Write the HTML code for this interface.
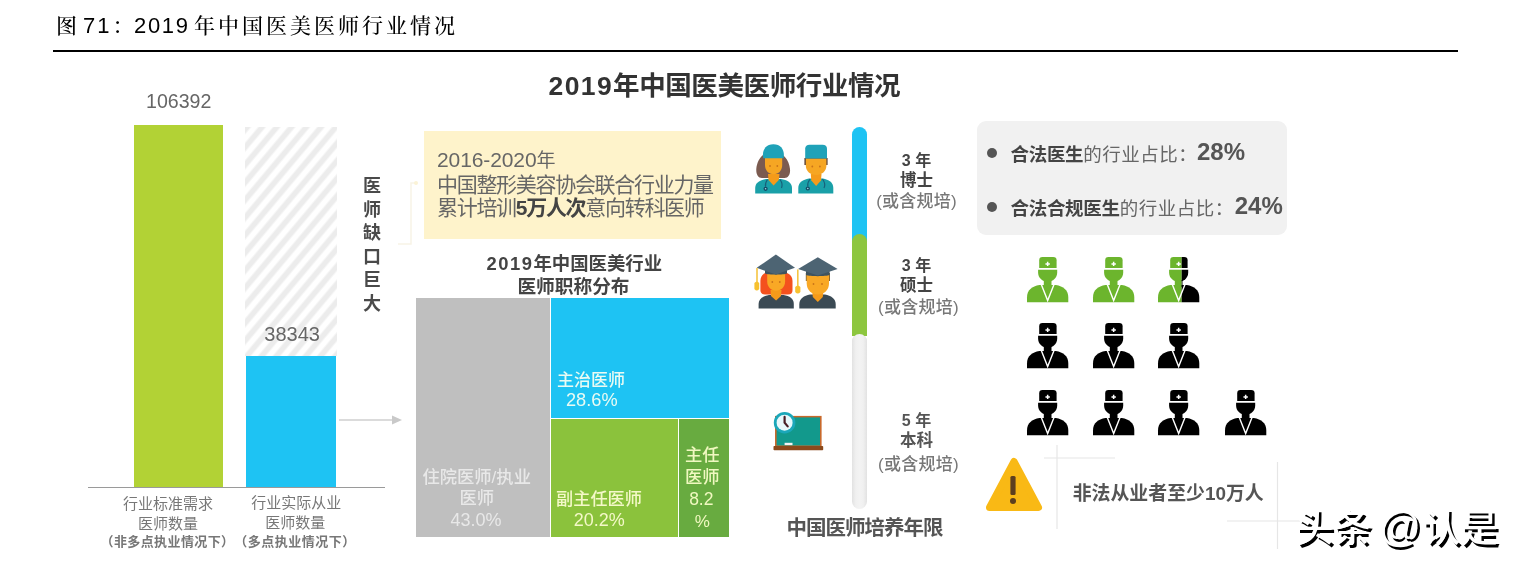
<!DOCTYPE html>
<html lang="zh-CN">
<head>
<meta charset="utf-8">
<title>图 71：2019 年中国医美医师行业情况</title>
<style>
html,body{margin:0;padding:0;background:#fff;}
body{width:1519px;height:567px;position:relative;overflow:hidden;font-family:"Liberation Sans","Noto Sans CJK SC",sans-serif;color:#555;}
.a{position:absolute;white-space:nowrap;line-height:1;}
.c{text-align:center;transform:translateX(-50%);}
.b{font-weight:700;}
.cap{font-family:"Liberation Sans","Noto Serif CJK SC",serif;font-size:21px;font-weight:500;color:#000;top:15px;}
svg{position:absolute;overflow:visible;}
</style>
</head>
<body>
<!-- caption -->
<div class="a cap" id="cap1" style="left:56px;">图</div>
<div class="a cap" id="cap2" style="font-weight:400;left:83px;letter-spacing:2px;font-size:22px;top:15px;">71</div>
<div class="a cap" id="cap3" style="left:112.5px;">：</div>
<div class="a cap" id="cap4" style="font-weight:400;left:134px;letter-spacing:1.7px;font-size:22px;top:15px;">2019</div>
<div class="a cap" id="cap5" style="left:194px;letter-spacing:3px;">年中国医美医师行业情况</div>
<div class="a" id="rule" style="left:53px;top:50px;width:1405px;height:2px;background:#000;"></div>

<!-- main title -->
<div class="a b" id="title" style="left:548.5px;top:72.5px;font-size:26.5px;letter-spacing:-0.4px;color:#333;"><span style="letter-spacing:1.4px;">2019</span>年中国医美医师行业情况</div>

<!-- bar chart -->
<div class="a" id="bar1" style="left:134px;top:125px;width:89px;height:362px;background:#b2d235;"></div>
<div class="a" id="hatch" style="left:245px;top:127px;width:92px;height:229px;background:repeating-linear-gradient(130deg,#ececec 0,#ececec 3.6px,#fff 5.6px,#fff 9.3px,#ececec 11.3px);"></div>
<div class="a" id="bar2" style="left:246px;top:356px;width:90px;height:131px;background:#1ec3f3;"></div>
<div class="a" id="axis" style="left:88px;top:486.5px;width:297px;height:1.5px;background:#9a9a9a;"></div>
<div class="a" id="n1" style="left:146px;top:91.5px;font-size:19.6px;color:#666;">106392</div>
<div class="a" id="n2" style="left:264.3px;top:323.5px;font-size:20px;color:#666;">38343</div>
<div class="a b" id="vt" style="left:363px;top:175px;font-size:18px;line-height:23.6px;width:18px;white-space:normal;color:#4a4a4a;">医师缺口巨大</div>
<div class="a c" id="l1a" style="left:168px;top:496px;font-size:15px;color:#777;">行业标准需求</div>
<div class="a c" id="l1b" style="left:168px;top:516px;font-size:15px;color:#777;">医师数量</div>
<div class="a c b" id="l1c" style="left:167.5px;top:534.5px;font-size:13px;letter-spacing:0.4px;color:#777;">（非多点执业情况下）</div>
<div class="a c" id="l2a" style="left:296.2px;top:495px;font-size:15px;color:#777;">行业实际从业</div>
<div class="a c" id="l2b" style="left:295.2px;top:515.2px;font-size:15px;color:#777;">医师数量</div>
<div class="a c b" id="l2c" style="left:295px;top:534.5px;font-size:13px;letter-spacing:0.5px;color:#777;">（多点执业情况下）</div>
<!-- arrow -->
<svg id="arrow" style="left:338px;top:412px;" width="66" height="16" viewBox="0 0 66 16"><line x1="1" y1="8" x2="56" y2="8" stroke="#cfcfcf" stroke-width="1.3"/><path d="M54 3.5 L64 8 L54 12.5 Z" fill="#c9c9c9"/></svg>
<!-- bracket -->
<svg id="bracket" style="left:396px;top:178px;" width="24" height="70" viewBox="0 0 24 70"><path d="M2 66 H15 V5 H20" fill="none" stroke="#f8f3e6" stroke-width="1.5"/><circle cx="20" cy="5" r="2" fill="#fbf3d6"/></svg>

<!-- yellow box -->
<div class="a" id="ybox" style="left:424px;top:131px;width:297px;height:108px;background:#fef3cb;"></div>
<div class="a" id="y1" style="left:437px;top:149px;font-size:21px;letter-spacing:-0.1px;color:#666;">2016-2020<span style="font-size:19px;">年</span></div>
<div class="a" id="y2" style="left:437px;top:174px;font-size:21px;letter-spacing:-1.3px;color:#666;">中国整形美容协会联合行业力量</div>
<div class="a" id="y3" style="left:437px;top:197px;font-size:21px;letter-spacing:-1.3px;color:#666;">累计培训<span class="b" style="color:#444;">5万人次</span>意向转科医师</div>

<!-- treemap -->
<div class="a c b" id="s1" style="left:574.3px;top:255.3px;font-size:18.4px;color:#444;"><span style="letter-spacing:1.5px;">2019</span>年中国医美行业</div>
<div class="a c b" id="s2" style="left:573.5px;top:278px;font-size:18.7px;color:#444;">医师职称分布</div>
<div class="a" id="tg" style="left:416px;top:298px;width:133.5px;height:238.5px;background:#bfbfbf;"></div>
<div class="a" id="tb" style="left:550.5px;top:298px;width:178.5px;height:119.5px;background:#1ec3f3;"></div>
<div class="a" id="tl" style="left:550.5px;top:418.5px;width:127px;height:118px;background:#8bc23c;"></div>
<div class="a" id="td" style="left:678.5px;top:418.5px;width:50.5px;height:118px;background:#68ab40;"></div>
<div class="a" id="t1a" style="font-weight:500;left:557px;top:371.5px;font-size:17px;color:#e9fbf3;">主治医师</div>
<div class="a" id="t1b" style="left:566px;top:390.5px;font-size:18.2px;color:#e9fbf3;">28.6%</div>
<div class="a c" id="t2a" style="font-weight:500;left:476.7px;top:469px;font-size:17.3px;color:#e8e8e8;">住院医师/执业</div>
<div class="a c" id="t2b" style="font-weight:500;left:476.8px;top:490px;font-size:17.3px;color:#e8e8e8;">医师</div>
<div class="a c" id="t2c" style="left:476px;top:510.5px;font-size:18px;color:#e8e8e8;">43.0%</div>
<div class="a c" id="t3a" style="font-weight:500;left:599px;top:490.5px;font-size:17.2px;color:#f4f8c8;">副主任医师</div>
<div class="a c" id="t3b" style="left:599.2px;top:510.5px;font-size:18px;color:#f4f8c8;">20.2%</div>
<div class="a c" id="t4a" style="font-weight:500;left:702.3px;top:446.5px;font-size:17.3px;color:#f0f8c0;">主任</div>
<div class="a c" id="t4b" style="font-weight:500;left:702.3px;top:468.5px;font-size:17.3px;color:#f0f8c0;">医师</div>
<div class="a c" id="t4c" style="left:701.3px;top:490.5px;font-size:17.5px;color:#f0f8c0;">8.2</div>
<div class="a c" id="t4d" style="left:702.3px;top:512.5px;font-size:17px;color:#f0f8c0;">%</div>

<!-- timeline bar -->
<div class="a" id="vg" style="left:851.5px;top:333.5px;width:15.8px;height:175.5px;border-radius:7.9px;background:linear-gradient(90deg,#e2e2e2 0,#f0f0f0 25%,#f3f3f3 50%,#f0f0f0 75%,#e2e2e2 100%);"></div>
<div class="a" id="vb" style="left:851.5px;top:127px;width:15.8px;height:113.5px;border-radius:7.9px 7.9px 0 0;background:#1ec3f3;"></div>
<div class="a" id="vgr" style="left:851.5px;top:234px;width:15.8px;height:102px;border-radius:7.9px 7.9px 0 0;background:#8dc63f;"></div>
<div class="a" id="vg2" style="left:851.5px;top:333.5px;width:15.8px;height:20px;border-radius:7.9px 7.9px 0 0;background:linear-gradient(90deg,#e2e2e2 0,#f0f0f0 25%,#f3f3f3 50%,#f0f0f0 75%,#e2e2e2 100%);"></div>

<div class="a c b" id="d1a" style="left:916.5px;top:153.4px;font-size:16px;color:#444;">3 年</div>
<div class="a c b" id="d1b" style="left:916.5px;top:172.1px;font-size:16.5px;color:#444;">博士</div>
<div class="a c" id="d1c" style="left:916.5px;top:192.7px;font-size:17px;font-weight:500;letter-spacing:0.2px;color:#777;">(或含规培)</div>
<div class="a c b" id="d2a" style="left:916.5px;top:258.4px;font-size:16px;color:#444;">3 年</div>
<div class="a c b" id="d2b" style="left:916.5px;top:276.6px;font-size:16.5px;color:#444;">硕士</div>
<div class="a c" id="d2c" style="left:918.5px;top:299px;font-size:17px;font-weight:500;letter-spacing:0.3px;color:#777;">(或含规培)</div>
<div class="a c b" id="d3a" style="left:916.5px;top:413.4px;font-size:16px;color:#555;">5 年</div>
<div class="a c b" id="d3b" style="left:916.5px;top:432.1px;font-size:16.5px;color:#555;">本科</div>
<div class="a c" id="d3c" style="left:918.5px;top:455.5px;font-size:17px;font-weight:500;letter-spacing:0.3px;color:#777;">(或含规培)</div>
<div class="a c b" id="d4" style="left:864.5px;top:517.5px;font-size:20.5px;letter-spacing:-1px;color:#555;">中国医师培养年限</div>

<!-- right box -->
<div class="a" id="gbox" style="left:977px;top:121px;width:310px;height:114px;border-radius:9px;background:#f1f1f1;"></div>
<div class="a" id="bu1" style="left:987px;top:148px;width:10px;height:10px;border-radius:5px;background:#555;"></div>
<div class="a" id="bu2" style="left:987px;top:202px;width:10px;height:10px;border-radius:5px;background:#555;"></div>
<div class="a" id="r1" style="left:1010.5px;top:145.5px;font-size:18.5px;letter-spacing:-0.3px;color:#666;"><span class="b" style="color:#444;">合法医生</span><span style="letter-spacing:0.5px;">的行业占比：</span></div>
<div class="a b" id="r1n" style="left:1197px;top:139.7px;font-size:24px;color:#555;">28%</div>
<div class="a" id="r2" style="left:1010.5px;top:199.5px;font-size:18.5px;letter-spacing:-0.3px;color:#666;"><span class="b" style="color:#444;">合法合规医生</span><span style="letter-spacing:0.5px;">的行业占比：</span></div>
<div class="a b" id="r2n" style="left:1234.7px;top:193.6px;font-size:24px;color:#555;">24%</div>

<!-- pictogram doctors -->
<svg id="p11" style="left:1027.4px;top:257.4px;" width="41.3" height="45.2" viewBox="0 0 41.3 45.2"><g fill="#6cb52d"><path d="M12.2 11.1 V3.2 Q12.2 0 15.4 0 H26.2 Q29.6 0 29.6 3.2 V11.1 Z"/><path d="M11.1 12.7 H30.2 V15.5 C30.2 21 26 24.6 20.65 24.6 C15.3 24.6 11.1 21 11.1 15.5 Z"/><rect x="16.8" y="23" width="7.7" height="7"/><path d="M0 45.2 V40.5 C0 33 5 29.2 12.5 28 H28.8 C36.3 29.2 41.3 33 41.3 40.5 V45.2 Z"/></g><path d="M20.65 4.7 V9.1 M18.45 6.9 H22.85" stroke="#fff" stroke-width="1.5" fill="none"/><path d="M14.3 27.6 L20.65 43.6 L27 27.6" stroke="#fff" stroke-width="1.4" fill="none" stroke-linejoin="miter"/></svg>
<svg id="p12" style="left:1092.8px;top:257.4px;" width="41.3" height="45.2" viewBox="0 0 41.3 45.2"><g fill="#6cb52d"><path d="M12.2 11.1 V3.2 Q12.2 0 15.4 0 H26.2 Q29.6 0 29.6 3.2 V11.1 Z"/><path d="M11.1 12.7 H30.2 V15.5 C30.2 21 26 24.6 20.65 24.6 C15.3 24.6 11.1 21 11.1 15.5 Z"/><rect x="16.8" y="23" width="7.7" height="7"/><path d="M0 45.2 V40.5 C0 33 5 29.2 12.5 28 H28.8 C36.3 29.2 41.3 33 41.3 40.5 V45.2 Z"/></g><path d="M20.65 4.7 V9.1 M18.45 6.9 H22.85" stroke="#fff" stroke-width="1.5" fill="none"/><path d="M14.3 27.6 L20.65 43.6 L27 27.6" stroke="#fff" stroke-width="1.4" fill="none" stroke-linejoin="miter"/></svg>
<svg id="p13" style="left:1158.0px;top:257.4px;" width="41.3" height="45.2" viewBox="0 0 41.3 45.2"><clipPath id="clp13"><rect x="-1" y="-1" width="24.7" height="48"/></clipPath><clipPath id="crp13"><rect x="23.7" y="-1" width="30" height="48"/></clipPath><g fill="#6cb52d" clip-path="url(#clp13)"><path d="M12.2 11.1 V3.2 Q12.2 0 15.4 0 H26.2 Q29.6 0 29.6 3.2 V11.1 Z"/><path d="M11.1 12.7 H30.2 V15.5 C30.2 21 26 24.6 20.65 24.6 C15.3 24.6 11.1 21 11.1 15.5 Z"/><rect x="16.8" y="23" width="7.7" height="7"/><path d="M0 45.2 V40.5 C0 33 5 29.2 12.5 28 H28.8 C36.3 29.2 41.3 33 41.3 40.5 V45.2 Z"/></g><g fill="#000" clip-path="url(#crp13)"><path d="M12.2 11.1 V3.2 Q12.2 0 15.4 0 H26.2 Q29.6 0 29.6 3.2 V11.1 Z"/><path d="M11.1 12.7 H30.2 V15.5 C30.2 21 26 24.6 20.65 24.6 C15.3 24.6 11.1 21 11.1 15.5 Z"/><rect x="16.8" y="23" width="7.7" height="7"/><path d="M0 45.2 V40.5 C0 33 5 29.2 12.5 28 H28.8 C36.3 29.2 41.3 33 41.3 40.5 V45.2 Z"/></g><path d="M20.65 4.7 V9.1 M18.45 6.9 H22.85" stroke="#fff" stroke-width="1.5" fill="none"/><path d="M14.3 27.6 L20.65 43.6 L27 27.6" stroke="#fff" stroke-width="1.4" fill="none" stroke-linejoin="miter"/></svg>
<svg id="p21" style="left:1027.4px;top:322.9px;" width="41.3" height="45.2" viewBox="0 0 41.3 45.2"><g fill="#000"><path d="M12.2 11.1 V3.2 Q12.2 0 15.4 0 H26.2 Q29.6 0 29.6 3.2 V11.1 Z"/><path d="M11.1 12.7 H30.2 V15.5 C30.2 21 26 24.6 20.65 24.6 C15.3 24.6 11.1 21 11.1 15.5 Z"/><rect x="16.8" y="23" width="7.7" height="7"/><path d="M0 45.2 V40.5 C0 33 5 29.2 12.5 28 H28.8 C36.3 29.2 41.3 33 41.3 40.5 V45.2 Z"/></g><path d="M20.65 4.7 V9.1 M18.45 6.9 H22.85" stroke="#fff" stroke-width="1.5" fill="none"/><path d="M14.3 27.6 L20.65 43.6 L27 27.6" stroke="#fff" stroke-width="1.4" fill="none" stroke-linejoin="miter"/></svg>
<svg id="p22" style="left:1092.8px;top:322.9px;" width="41.3" height="45.2" viewBox="0 0 41.3 45.2"><g fill="#000"><path d="M12.2 11.1 V3.2 Q12.2 0 15.4 0 H26.2 Q29.6 0 29.6 3.2 V11.1 Z"/><path d="M11.1 12.7 H30.2 V15.5 C30.2 21 26 24.6 20.65 24.6 C15.3 24.6 11.1 21 11.1 15.5 Z"/><rect x="16.8" y="23" width="7.7" height="7"/><path d="M0 45.2 V40.5 C0 33 5 29.2 12.5 28 H28.8 C36.3 29.2 41.3 33 41.3 40.5 V45.2 Z"/></g><path d="M20.65 4.7 V9.1 M18.45 6.9 H22.85" stroke="#fff" stroke-width="1.5" fill="none"/><path d="M14.3 27.6 L20.65 43.6 L27 27.6" stroke="#fff" stroke-width="1.4" fill="none" stroke-linejoin="miter"/></svg>
<svg id="p23" style="left:1158.0px;top:322.9px;" width="41.3" height="45.2" viewBox="0 0 41.3 45.2"><g fill="#000"><path d="M12.2 11.1 V3.2 Q12.2 0 15.4 0 H26.2 Q29.6 0 29.6 3.2 V11.1 Z"/><path d="M11.1 12.7 H30.2 V15.5 C30.2 21 26 24.6 20.65 24.6 C15.3 24.6 11.1 21 11.1 15.5 Z"/><rect x="16.8" y="23" width="7.7" height="7"/><path d="M0 45.2 V40.5 C0 33 5 29.2 12.5 28 H28.8 C36.3 29.2 41.3 33 41.3 40.5 V45.2 Z"/></g><path d="M20.65 4.7 V9.1 M18.45 6.9 H22.85" stroke="#fff" stroke-width="1.5" fill="none"/><path d="M14.3 27.6 L20.65 43.6 L27 27.6" stroke="#fff" stroke-width="1.4" fill="none" stroke-linejoin="miter"/></svg>
<svg id="p31" style="left:1027.4px;top:389.5px;" width="41.3" height="45.2" viewBox="0 0 41.3 45.2"><g fill="#000"><path d="M12.2 11.1 V3.2 Q12.2 0 15.4 0 H26.2 Q29.6 0 29.6 3.2 V11.1 Z"/><path d="M11.1 12.7 H30.2 V15.5 C30.2 21 26 24.6 20.65 24.6 C15.3 24.6 11.1 21 11.1 15.5 Z"/><rect x="16.8" y="23" width="7.7" height="7"/><path d="M0 45.2 V40.5 C0 33 5 29.2 12.5 28 H28.8 C36.3 29.2 41.3 33 41.3 40.5 V45.2 Z"/></g><path d="M20.65 4.7 V9.1 M18.45 6.9 H22.85" stroke="#fff" stroke-width="1.5" fill="none"/><path d="M14.3 27.6 L20.65 43.6 L27 27.6" stroke="#fff" stroke-width="1.4" fill="none" stroke-linejoin="miter"/></svg>
<svg id="p32" style="left:1092.8px;top:389.5px;" width="41.3" height="45.2" viewBox="0 0 41.3 45.2"><g fill="#000"><path d="M12.2 11.1 V3.2 Q12.2 0 15.4 0 H26.2 Q29.6 0 29.6 3.2 V11.1 Z"/><path d="M11.1 12.7 H30.2 V15.5 C30.2 21 26 24.6 20.65 24.6 C15.3 24.6 11.1 21 11.1 15.5 Z"/><rect x="16.8" y="23" width="7.7" height="7"/><path d="M0 45.2 V40.5 C0 33 5 29.2 12.5 28 H28.8 C36.3 29.2 41.3 33 41.3 40.5 V45.2 Z"/></g><path d="M20.65 4.7 V9.1 M18.45 6.9 H22.85" stroke="#fff" stroke-width="1.5" fill="none"/><path d="M14.3 27.6 L20.65 43.6 L27 27.6" stroke="#fff" stroke-width="1.4" fill="none" stroke-linejoin="miter"/></svg>
<svg id="p33" style="left:1158.0px;top:389.5px;" width="41.3" height="45.2" viewBox="0 0 41.3 45.2"><g fill="#000"><path d="M12.2 11.1 V3.2 Q12.2 0 15.4 0 H26.2 Q29.6 0 29.6 3.2 V11.1 Z"/><path d="M11.1 12.7 H30.2 V15.5 C30.2 21 26 24.6 20.65 24.6 C15.3 24.6 11.1 21 11.1 15.5 Z"/><rect x="16.8" y="23" width="7.7" height="7"/><path d="M0 45.2 V40.5 C0 33 5 29.2 12.5 28 H28.8 C36.3 29.2 41.3 33 41.3 40.5 V45.2 Z"/></g><path d="M20.65 4.7 V9.1 M18.45 6.9 H22.85" stroke="#fff" stroke-width="1.5" fill="none"/><path d="M14.3 27.6 L20.65 43.6 L27 27.6" stroke="#fff" stroke-width="1.4" fill="none" stroke-linejoin="miter"/></svg>
<svg id="p34" style="left:1225.0px;top:389.5px;" width="41.3" height="45.2" viewBox="0 0 41.3 45.2"><g fill="#000"><path d="M12.2 11.1 V3.2 Q12.2 0 15.4 0 H26.2 Q29.6 0 29.6 3.2 V11.1 Z"/><path d="M11.1 12.7 H30.2 V15.5 C30.2 21 26 24.6 20.65 24.6 C15.3 24.6 11.1 21 11.1 15.5 Z"/><rect x="16.8" y="23" width="7.7" height="7"/><path d="M0 45.2 V40.5 C0 33 5 29.2 12.5 28 H28.8 C36.3 29.2 41.3 33 41.3 40.5 V45.2 Z"/></g><path d="M20.65 4.7 V9.1 M18.45 6.9 H22.85" stroke="#fff" stroke-width="1.5" fill="none"/><path d="M14.3 27.6 L20.65 43.6 L27 27.6" stroke="#fff" stroke-width="1.4" fill="none" stroke-linejoin="miter"/></svg>
<!-- colour icons -->
<svg id="fdoc" style="left:754.5px;top:143.5px;" width="37" height="50" viewBox="0 0 37 50">
<path d="M18 7.5 C8 7.5 2 16 1.3 25 C1 30 3 34 7 34 H29.5 C33.5 34 35.5 30 35 25 C34.200 16 28 7.500 18 7.500 Z" fill="#7b5b50"/>
<path d="M0.200 49.4 V44 C0.200 38.5 5 36 11 35 H26 C32 36 37 38.5 37 44 V49.4 Z" fill="#1aa0a8"/>
<path d="M13 30 H24.500 L23.800 36 L18.600 41.500 L13.500 36 Z" fill="#f59b1a"/>
<path d="M10 14 H27.200 V21 C27.200 26.500 23.500 30.200 18.600 30.200 C13.700 30.200 10 26.500 10 21 Z" fill="#f6a623"/>
<path d="M8.200 14.200 C6.800 6.500 10.500 0.300 18.400 0.300 C26.300 0.300 30 6.500 28.600 14.200 Z" fill="#1fa2b8"/>
<path d="M12.500 35.500 C10 39 10.200 41 10.600 42.600 M25 35.500 C27.500 39 27.300 42 26.500 44" stroke="#17607a" stroke-width="1.2" fill="none"/>
<circle cx="10.6" cy="44.800" r="2.1" fill="#134b66"/><circle cx="10.6" cy="44.800" r="0.8" fill="#9fd6e0"/>
<circle cx="15" cy="22" r="0.9" fill="#c9741a"/><circle cx="22.300" cy="22" r="0.9" fill="#c9741a"/>
</svg>
<svg id="mdoc" style="left:798px;top:143.500px;" width="36" height="50" viewBox="0 0 36 50">
<path d="M6.400 14 H29.600 V21 H6.400 Z" fill="#5a4037"/>
<path d="M0.300 49.400 V44 C0.300 38.500 5 35.500 11 34.500 H24.800 C30.800 35.500 35.300 38.500 35.300 44 V49.400 Z" fill="#1aa0a8"/>
<path d="M12.800 30 H23.500 L23 36.500 L18.100 42 L13.300 36.500 Z" fill="#f59b1a"/>
<path d="M7.800 14.400 H28.400 V21.500 C28.400 27.300 23.800 31 18.100 31 C12.400 31 7.800 27.300 7.800 21.500 Z" fill="#f6a623"/>
<path d="M7.200 14.600 V4.500 C7.200 2 9 0.700 11.500 0.700 H24.700 C27.200 0.700 29 2 29 4.500 V14.600 Z" fill="#1fa2b8"/>
<path d="M12 35 C9.500 38.500 9.500 41 9.800 42.500 M24.500 35 C27 38.500 27 42 26 44" stroke="#17607a" stroke-width="1.2" fill="none"/>
<circle cx="9.8" cy="44.500" r="2.1" fill="#134b66"/><circle cx="9.8" cy="44.500" r="0.8" fill="#9fd6e0"/>
<circle cx="14.300" cy="22.500" r="0.9" fill="#c9741a"/><circle cx="21.900" cy="22.500" r="0.9" fill="#c9741a"/>
</svg>
<svg id="fgrad" style="left:754px;top:254px;" width="42" height="55" viewBox="0 0 42 55">
<path d="M6.400 27 C6.400 20 12 17 22 17 C32 17 38.500 20 38.500 27 V36 C38.500 39 37 40.500 34 40.500 H11 C8 40.500 6.400 39 6.400 36 Z" fill="#f4511e"/>
<path d="M4.600 54.600 V50 C4.600 44.500 9 42 15 41 H29.500 C35.500 42 39.800 44.500 39.800 50 V54.600 Z" fill="#3b4a54"/>
<path d="M16.500 36 H27.500 L27 42 L22.100 46.500 L17 42 Z" fill="#f59b1a"/>
<path d="M13.200 19 H31.100 V27.500 C31.100 33 27 36.700 22.100 36.700 C17.200 36.700 13.200 33 13.200 27.500 Z" fill="#f9a825"/>
<path d="M11 14 H33 V19.500 C30 21 14 21 11 19.500 Z" fill="#3f535f"/>
<path d="M21.900 0.600 L41 13.800 L21.900 20.600 L2.700 13.800 Z" fill="#4d6473"/>
<path d="M3 14 V28" stroke="#f5c542" stroke-width="1.6"/><path d="M0.400 29 Q2.800 26 5.200 29 V35 Q2.800 38 0.400 35 Z" fill="#f7c12f"/>
<circle cx="18.300" cy="28" r="0.9" fill="#c9741a"/><circle cx="25.800" cy="28" r="0.9" fill="#c9741a"/>
</svg>
<svg id="mgrad" style="left:795px;top:254px;" width="43" height="55" viewBox="0 0 43 55">
<path d="M10.800 19 H35 V27 H10.800 Z" fill="#8a6a34"/>
<path d="M4.300 54.600 V50 C4.300 44.500 9 41.500 15 40.400 H30 C36 41.500 40.700 44.500 40.700 50 V54.600 Z" fill="#3b4a54"/>
<path d="M17.300 38 H28.300 L27.800 43 L22.800 48 L17.800 43 Z" fill="#f59b1a"/>
<path d="M11.700 20 H34 V29.500 C34 36 29 40.400 22.800 40.400 C16.600 40.400 11.700 36 11.700 29.500 Z" fill="#f9a825"/>
<path d="M11 15 H34.600 V21 C31 22.500 14.500 22.500 11 21 Z" fill="#3f535f"/>
<path d="M22.800 3.300 L42.600 15 L22.800 21.500 L3.100 15 Z" fill="#4d6473"/>
<path d="M2.800 15.500 V32" stroke="#f5c542" stroke-width="1.6"/><path d="M0.200 33 Q2.800 30 5.400 33 V38 Q2.800 41 0.200 38 Z" fill="#f7c12f"/>
<circle cx="18.500" cy="30" r="0.9" fill="#c9741a"/><circle cx="27" cy="30" r="0.9" fill="#c9741a"/>
</svg>
<svg id="board" style="left:772px;top:410px;" width="53" height="42" viewBox="0 0 53 42">
<rect x="3" y="5.900" width="46.600" height="30.600" fill="#c8692b"/>
<rect x="4.600" y="7.400" width="43.400" height="28.100" fill="#12998c"/>
<rect x="1.500" y="36" width="49.700" height="4.300" rx="0.8" fill="#8a4a1c"/>
<rect x="12.600" y="32.800" width="7.900" height="2.300" fill="#f4f4f4"/>
<circle cx="12.600" cy="12.700" r="10.800" fill="#1ba7b9"/>
<circle cx="12.600" cy="12.700" r="8" fill="#e9f8fb"/>
<path d="M12.600 6.900 V12.700 L15.700 16.400" stroke="#4a1f26" stroke-width="2.2" fill="none" stroke-linecap="round"/>
</svg>
<!-- warning -->
<svg id="lines" style="left:1040px;top:440px;" width="270" height="115" viewBox="0 0 270 115"><g stroke="#e6e6e6" stroke-width="1.2" fill="none"><path d="M17 5 V89"/><path d="M4 18 H75"/><path d="M237.5 22 V109"/><path d="M187 81 H260"/></g></svg>
<svg id="warn" style="left:983px;top:455px;" width="62" height="60" viewBox="0 0 62 60"><path d="M31 6.500 L55.500 52.500 H6.500 Z" fill="#f9b915" stroke="#f9b915" stroke-width="7" stroke-linejoin="round"/><rect x="27.4" y="21" width="5.2" height="19" rx="1.5" fill="#5d3f1f"/><circle cx="30" cy="46" r="3" fill="#5d3f1f"/></svg>
<div class="a b" id="wt" style="left:1072.7px;top:484.5px;font-size:18.9px;color:#555;">非法从业者至少10万人</div>

<!-- watermark -->
<div class="a" id="wm" style="left:1295.5px;top:506px;font-size:38px;font-weight:500;color:#fff;text-shadow:2.5px 2.5px 0 #000;">头条<span style="font-size:42px;letter-spacing:0px;margin-left:7px;margin-right:1px;">@</span>认是</div>
</body>
</html>
